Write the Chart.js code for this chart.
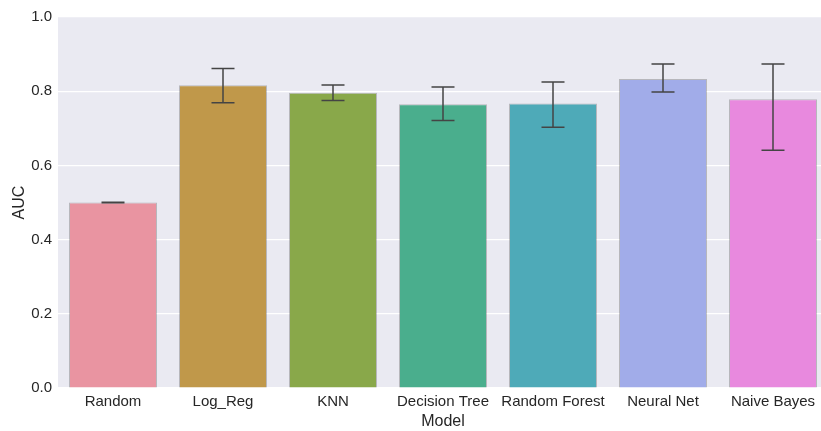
<!DOCTYPE html>
<html lang="en">
<head>
<meta charset="UTF-8">
<title>AUC by Model</title>
<script src="https://cdn.jsdelivr.net/npm/chart.js"></script>
<style>
    html, body { margin: 0; padding: 0; background: #ffffff; overflow: hidden; }
    #wrap { width: 830px; height: 431px; }
</style>
</head>
<body>
<div id="wrap"><canvas id="aucChart" width="830" height="431"></canvas></div>
<script>
    const models = ['Random', 'Log_Reg', 'KNN', 'Decision Tree', 'Random Forest', 'Neural Net', 'Naive Bayes'];
    const aucMean = [0.500, 0.816, 0.796, 0.765, 0.767, 0.833, 0.778];
    const aucLow = [0.499, 0.769, 0.775, 0.721, 0.703, 0.798, 0.641];
    const aucHigh = [0.501, 0.861, 0.817, 0.811, 0.825, 0.873, 0.873];
    const barColors = ['#E994A1', '#C0984A', '#89A84A', '#4AAE8D', '#4EAAB8', '#A1ACE9', '#E889DE'];
    const yTicks = [0, 0.2, 0.4, 0.6, 0.8, 1.0];

    // draws the error bars from aucLow / aucHigh through the y scale
    const errorBars = {
        id: 'errorBars',
        afterDatasetsDraw(chart) {
            const ctx = chart.ctx;
            const y = chart.scales.y;
            const meta = chart.getDatasetMeta(0);
            ctx.save();
            ctx.strokeStyle = '#444444';
            ctx.lineWidth = 1.5;
            meta.data.forEach((bar, i) => {
                const top = y.getPixelForValue(aucHigh[i]);
                const bottom = y.getPixelForValue(aucLow[i]);
                const half = 11.5;
                ctx.beginPath();
                ctx.moveTo(bar.x, top);
                ctx.lineTo(bar.x, bottom);
                ctx.moveTo(bar.x - half, top);
                ctx.lineTo(bar.x + half, top);
                ctx.moveTo(bar.x - half, bottom);
                ctx.lineTo(bar.x + half, bottom);
                ctx.stroke();
            });
            ctx.restore();
        }
    };

    const plotBg = {
        id: 'plotBg',
        beforeDraw(chart) {
            const a = chart.chartArea;
            chart.ctx.save();
            chart.ctx.fillStyle = '#EAEAF2';
            chart.ctx.fillRect(a.left, a.top, a.right - a.left, a.bottom - a.top);
            chart.ctx.restore();
        }
    };

    new Chart(document.getElementById('aucChart'), {
        type: 'bar',
        data: {
            labels: models,
            datasets: [{
                data: aucMean,
                backgroundColor: barColors,
                borderColor: 'rgba(90, 90, 90, 0.35)',
                borderWidth: 1,
                categoryPercentage: 1.0,
                barPercentage: 0.8
            }]
        },
        options: {
            responsive: false,
            animation: false,
            layout: { padding: { top: 17, right: 2, left: 10, bottom: 0 } },
            plugins: { legend: { display: false }, tooltip: { enabled: false } },
            scales: {
                x: {
                    grid: { display: false, drawTicks: false },
                    border: { display: false },
                    ticks: {
                        color: '#262626', padding: 5,
                        font: { family: 'Liberation Sans, Arial', size: 15 },
                        maxRotation: 0, autoSkip: false
                    },
                    title: {
                        display: true, text: 'Model', color: '#262626',
                        font: { family: 'Liberation Sans, Arial', size: 16 },
                        padding: { top: 0, bottom: 0 }
                    },
                    afterFit(scale) { scale.height = 43; }
                },
                y: {
                    min: 0, max: 1,
                    afterBuildTicks(scale) { scale.ticks = yTicks.map(v => ({ value: v })); },
                    grid: { color: '#ffffff', lineWidth: 1.2, drawTicks: false },
                    border: { display: false },
                    ticks: {
                        color: '#262626', padding: 6,
                        font: { family: 'Liberation Sans, Arial', size: 15 },
                        callback: v => v.toFixed(1)
                    },
                    title: {
                        display: true, text: 'AUC', color: '#262626',
                        font: { family: 'Liberation Sans, Arial', size: 16 },
                        padding: { top: 0, bottom: 4 }
                    },
                    afterFit(scale) { scale.width = 48; }
                }
            }
        },
        plugins: [plotBg, errorBars]
    });
</script>
</body>
</html>
